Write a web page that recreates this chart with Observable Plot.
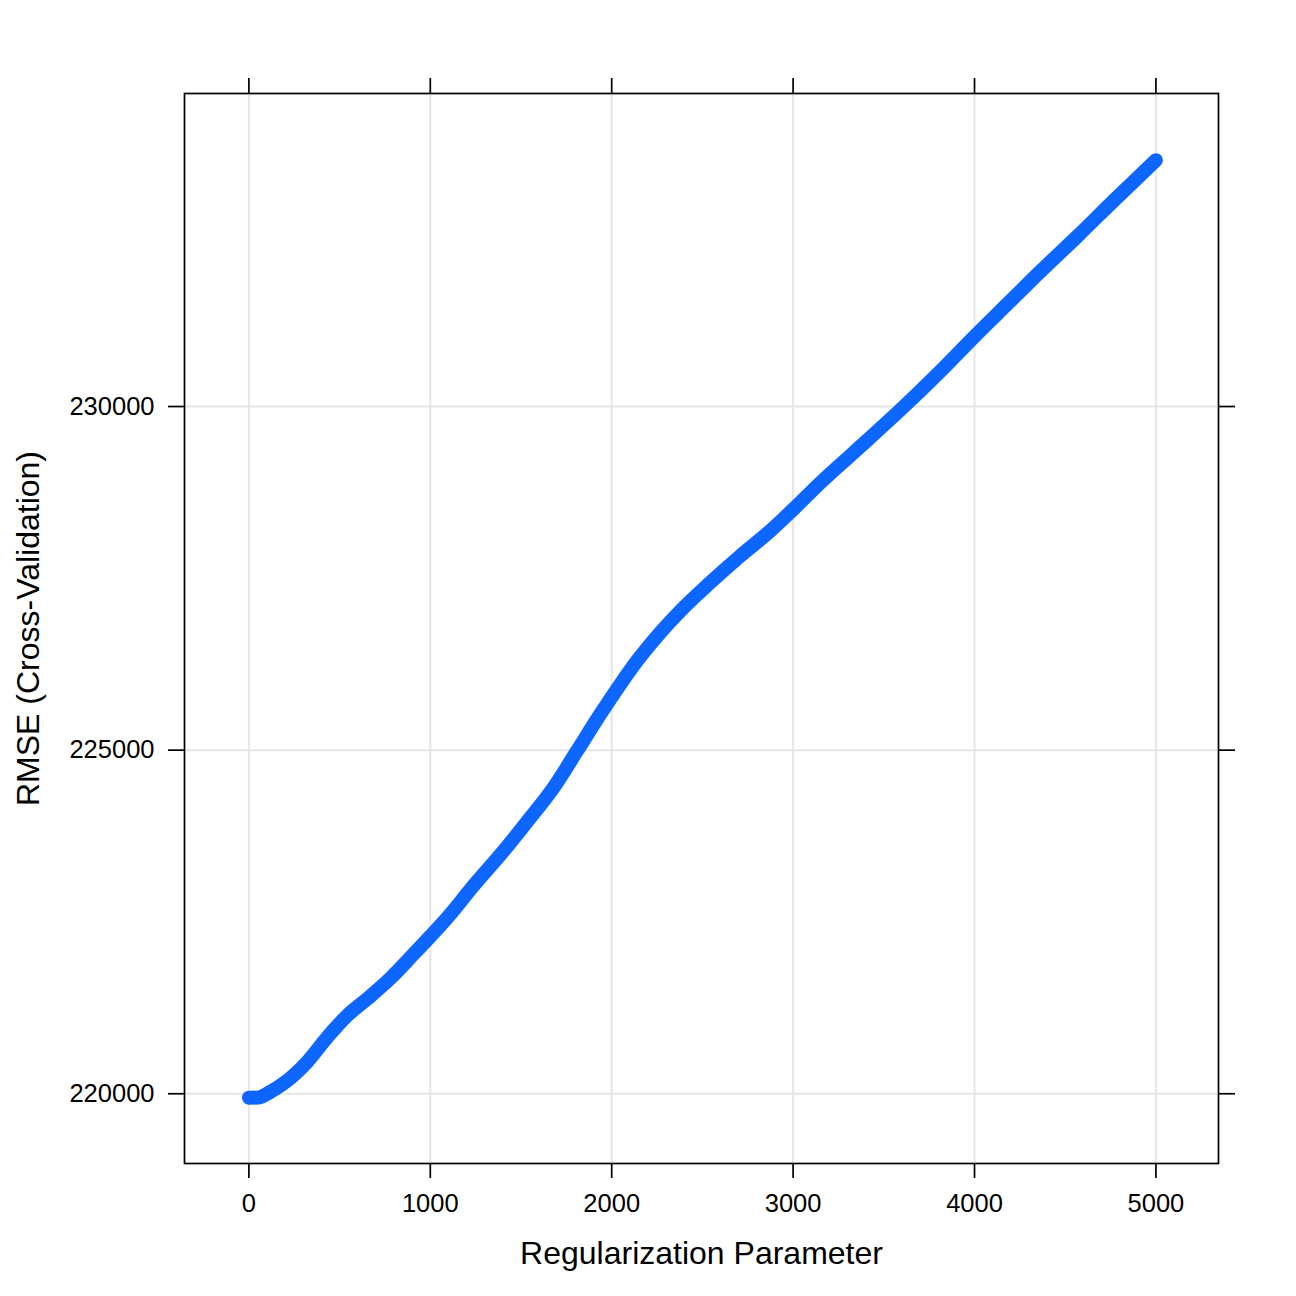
<!DOCTYPE html>
<html>
<head>
<meta charset="utf-8">
<script src="https://cdn.jsdelivr.net/npm/d3@7"></script>
<script src="https://cdn.jsdelivr.net/npm/@observablehq/plot@0.6"></script>
<style>
  html, body { margin: 0; padding: 0; background: #fff; }
  #chart svg { display: block; }
</style>
</head>
<body>
<div id="chart"></div>
<script>
// Regularization parameter (lambda) values
const lambda = [0, 50, 120, 191, 320, 431, 541, 651, 780, 908, 1000, 1093, 1239, 1387, 1534, 1681, 1810, 1938, 2049, 2141, 2269, 2379, 2544, 2710, 2875, 2999, 3152, 3317, 3409, 3611, 3795, 4000, 4199, 4365, 4568, 4769, 5000];
// Cross-validated RMSE values
const rmse = [219942, 219945, 220030, 220150, 220460, 220819, 221135, 221378, 221680, 222033, 222290, 222560, 223030, 223480, 223960, 224460, 224993, 225527, 225964, 226303, 226715, 227028, 227440, 227829, 228192, 228500, 228895, 229290, 229510, 230000, 230470, 231020, 231538, 231970, 232480, 233000, 233585];
// Tick labels
const xTicks = [0, 1000, 2000, 3000, 4000, 5000];
const yTicks = [220000, 225000, 230000];
const xTitle = "Regularization Parameter";
const yTitle = "RMSE (Cross-Validation)";

const data = lambda.map((d, i) => ({lambda: d, rmse: rmse[i]}));
const fmt = d3.format("d");

const chart = Plot.plot({
  width: 1296,
  height: 1296,
  marginLeft: 184,
  marginRight: 78,
  marginTop: 93,
  marginBottom: 133,
  style: {fontFamily: "'Liberation Sans', Arial, Helvetica, sans-serif", background: "white", color: "black"},
  x: {domain: [-355, 5345]},
  y: {domain: [218985, 234555]},
  marks: [
    Plot.gridX(xTicks, {stroke: "#e6e6e6", strokeOpacity: 1, strokeWidth: 2}),
    Plot.gridY(yTicks, {stroke: "#e6e6e6", strokeOpacity: 1, strokeWidth: 2}),
    Plot.line(data, {x: "lambda", y: "rmse", stroke: "#0d66ff", strokeWidth: 14, strokeLinecap: "round", strokeLinejoin: "round", curve: "monotone-x"}),
    Plot.frame({stroke: "black", strokeWidth: 1.7}),
    Plot.axisX(xTicks, {anchor: "bottom", tickSize: 15, tickPadding: 15, tickFormat: fmt, fontSize: 25.5, label: null, strokeWidth: 1.7}),
    Plot.axisX(xTicks, {anchor: "top", tickSize: 16, tickFormat: () => "", label: null, strokeWidth: 1.7}),
    Plot.axisY(yTicks, {anchor: "left", tickSize: 16, tickPadding: 14, tickFormat: fmt, fontSize: 25.5, label: null, strokeWidth: 1.7}),
    Plot.axisY(yTicks, {anchor: "right", tickSize: 16, tickFormat: () => "", label: null, strokeWidth: 1.7}),
    Plot.text([xTitle], {frameAnchor: "bottom", dy: 90, fontSize: 32, textAnchor: "middle", lineAnchor: "middle", fill: "black"}),
    Plot.text([yTitle], {frameAnchor: "left", dx: -156, rotate: -90, fontSize: 32, textAnchor: "middle", lineAnchor: "middle", fill: "black"})
  ]
});
document.getElementById("chart").appendChild(chart);
</script>
</body>
</html>
